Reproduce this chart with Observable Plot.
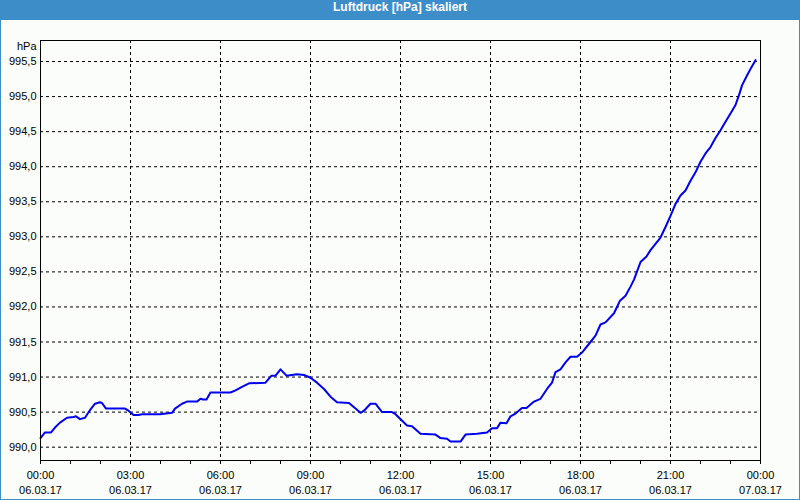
<!DOCTYPE html>
<html>
<head>
<meta charset="utf-8">
<script src="https://cdn.jsdelivr.net/npm/d3@7"></script>
<script src="https://cdn.jsdelivr.net/npm/@observablehq/plot@0.6"></script>
<style>
  html, body { margin: 0; padding: 0; background: #3d8ec8; }
  #frame { position: relative; width: 800px; height: 500px; background: #3d8ec8; overflow: hidden; }
  #title { position: absolute; left: 0; top: 0; width: 800px; height: 20px; line-height: 20px; text-align: center;
           color: #fff; font: bold 12px "Liberation Sans", Arial, sans-serif; }
  #inner { position: absolute; left: 1px; top: 20px; width: 798px; height: 479px; background: #fafdfa; }
</style>
</head>
<body>
<div id="frame">
  <div id="title">Luftdruck [hPa] skaliert</div>
  <div id="inner"></div>
</div>
<script>
// Data (06.03.17)
const times = ["00:00","00:09","00:21","00:29","00:39","00:53","01:06","01:11","01:19","01:29","01:39","01:49","01:59","02:03","02:11","02:49","02:56","03:06","03:16","03:23","03:59","04:23","04:29","04:43","04:53","05:13","05:20","05:25","05:32","05:40","06:20","06:30","06:43","06:57","07:30","07:42","07:50","08:00","08:12","08:33","08:47","09:00","09:13","09:27","09:40","09:53","10:17","10:27","10:40","10:47","11:00","11:10","11:23","11:43","11:50","12:13","12:23","12:40","13:10","13:20","13:33","13:40","14:00","14:10","14:33","14:53","15:03","15:13","15:20","15:32","15:40","15:50","16:03","16:12","16:27","16:40","16:53","17:03","17:10","17:20","17:30","17:40","17:53","18:03","18:20","18:30","18:40","18:50","19:07","19:19","19:30","19:40","19:47","20:00","20:12","20:20","20:30","20:40","20:50","21:00","21:10","21:20","21:30","21:40","21:50","22:00","22:10","22:20","22:30","22:40","22:50","23:00","23:10","23:17","23:23","23:33","23:42","23:50"];
const pressure = [990.13,990.21,990.21,990.28,990.35,990.42,990.43,990.44,990.40,990.42,990.53,990.62,990.64,990.63,990.55,990.55,990.52,990.46,990.46,990.47,990.47,990.49,990.55,990.62,990.65,990.65,990.69,990.68,990.68,990.78,990.78,990.81,990.86,990.91,990.92,991.02,991.02,991.11,991.02,991.04,991.03,990.99,990.92,990.83,990.72,990.64,990.63,990.57,990.49,990.52,990.62,990.62,990.50,990.50,990.47,990.31,990.30,990.19,990.18,990.13,990.12,990.08,990.08,990.18,990.19,990.21,990.27,990.27,990.35,990.34,990.44,990.48,990.56,990.56,990.65,990.69,990.83,990.92,991.07,991.11,991.21,991.29,991.29,991.35,991.50,991.59,991.75,991.78,991.91,992.09,992.16,992.29,992.39,992.64,992.72,992.81,992.90,992.99,993.14,993.30,993.47,993.59,993.66,993.80,993.92,994.07,994.19,994.28,994.41,994.52,994.64,994.76,994.88,995.02,995.16,995.30,995.42,995.52];
const yTicks = [990.0,990.5,991.0,991.5,992.0,992.5,993.0,993.5,994.0,994.5,995.0,995.5];
const xTickHours = [0,3,6,9,12,15,18,21,24];
const yUnit = "hPa";

const toDate = (t) => { const [h, m] = t.split(":").map(Number); return new Date(Date.UTC(2017, 2, 6, h, m)); };
const data = times.map((t, i) => ({ time: toDate(t), value: pressure[i] }));
const xMajor = xTickHours.map(h => new Date(Date.UTC(2017, 2, 6, h)));
const xMinor = d3.range(0, 25).map(h => new Date(Date.UTC(2017, 2, 6, h)));
const fmtTime = d3.utcFormat("%H:%M");
const fmtDate = d3.utcFormat("%d.%m.%y");

const chart = Plot.plot({
  width: 798,
  height: 479,
  marginLeft: 39,
  marginRight: 39,
  marginTop: 20,
  marginBottom: 39,
  style: { fontFamily: "Liberation Sans, Arial, sans-serif", fontSize: "11px", background: "transparent", color: "#000", overflow: "visible" },
  x: { type: "utc", domain: [xMajor[0], xMajor[xMajor.length - 1]] },
  y: { domain: [989.81, 995.80] },
  marks: [
    Plot.ruleY(yTicks, { stroke: "#000", strokeWidth: 1, strokeDasharray: "3,3", strokeOpacity: 1 }),
    Plot.ruleX(xMajor.slice(1, -1), { stroke: "#000", strokeWidth: 1, strokeDasharray: "3,3", strokeOpacity: 1 }),
    Plot.axisY({ ticks: yTicks, tickSize: 0, tickPadding: 4, label: null, tickFormat: d => d.toFixed(1).replace(".", ",") }),
    Plot.axisX({ ticks: xMinor, tickSize: 4, label: null, tickFormat: () => "" , strokeOpacity: 1}),
    Plot.axisX({ ticks: xMajor, tickSize: 0, tickPadding: 11, label: null, tickFormat: fmtTime }),
    Plot.axisX({ ticks: xMajor, tickSize: 0, tickPadding: 26, label: null, tickFormat: fmtDate }),
    Plot.text([yUnit], { frameAnchor: "top-left", text: d => d, dx: -4, dy: 6, textAnchor: "end", lineAnchor: "middle", fill: "#000" }),
    Plot.line(data, { x: "time", y: "value", stroke: "#0000ee", strokeWidth: 2 }),
    Plot.frame({ stroke: "#000", strokeWidth: 1 })
  ]
});
document.getElementById("inner").appendChild(chart);
</script>
</body>
</html>
